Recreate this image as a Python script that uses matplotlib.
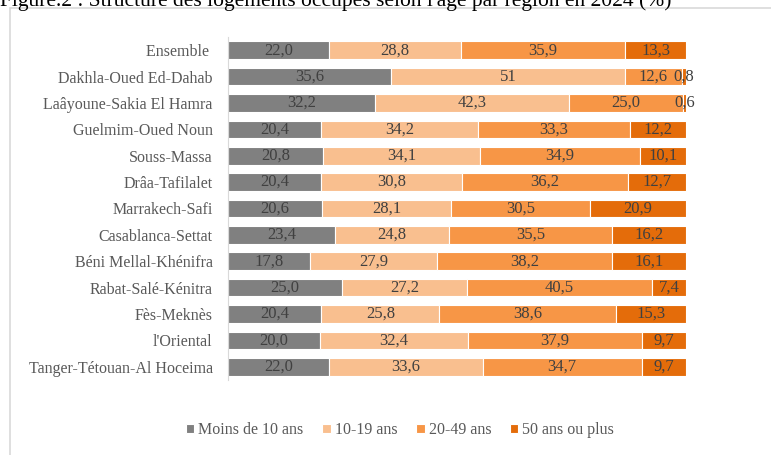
import matplotlib
matplotlib.use("Agg")
import matplotlib.pyplot as plt
from matplotlib.patches import Rectangle
import numpy as np

plt.rcParams['font.family'] = ['Liberation Serif', 'DejaVu Serif']

regions = [
    "Ensemble ",
    "Dakhla-Oued Ed-Dahab",
    "Laâyoune-Sakia El Hamra",
    "Guelmim-Oued Noun",
    "Souss-Massa",
    "Drâa-Tafilalet",
    "Marrakech-Safi",
    "Casablanca-Settat",
    "Béni Mellal-Khénifra",
    "Rabat-Salé-Kénitra",
    "Fès-Meknès",
    "l'Oriental",
    "Tanger-Tétouan-Al Hoceima",
]
moins_10 = [22.0, 35.6, 32.2, 20.4, 20.8, 20.4, 20.6, 23.4, 17.8, 25.0, 20.4, 20.0, 22.0]
ans_10_19 = [28.8, 51, 42.3, 34.2, 34.1, 30.8, 28.1, 24.8, 27.9, 27.2, 25.8, 32.4, 33.6]
ans_20_49 = [35.9, 12.6, 25.0, 33.3, 34.9, 36.2, 30.5, 35.5, 38.2, 40.5, 38.6, 37.9, 34.7]
ans_50_plus = [13.3, 0.8, 0.6, 12.2, 10.1, 12.7, 20.9, 16.2, 16.1, 7.4, 15.3, 9.7, 9.7]

series = [moins_10, ans_10_19, ans_20_49, ans_50_plus]
names = ["Moins de 10 ans", "10-19 ans", "20-49 ans", "50 ans ou plus"]
colors = ["#808080", "#F9BF8F", "#F79646", "#E46C0A"]


def fmt(v):
    if isinstance(v, int):
        return str(v)
    return f"{v:.1f}".replace(".", ",")


fig = plt.figure(figsize=(7.71, 4.55), dpi=100)
ax = fig.add_axes([228 / 771, 1 - 380 / 455, 458 / 771, 343 / 455])

# cadre autour du graphique
fig.patches.append(Rectangle((10 / 771, -0.1), 1.2, 1 - 8 / 455 + 0.1,
                             transform=fig.transFigure, fill=False,
                             edgecolor="#D9D9D9", linewidth=1.2))

fig.text(0, 1 - 6 / 455, "Figure.2 : Structure des logements occupés selon l'âge par région en 2024 (%)",
         fontsize=15.5, color="black", va="baseline", ha="left")

data = np.array([[float(x) for x in s] for s in series])
totals = data.sum(axis=0)
y = np.arange(len(regions))
left = np.zeros(len(regions))
for k, s in enumerate(series):
    w = data[k] / totals * 100
    ax.barh(y, w, left=left, height=0.67, color=colors[k], edgecolor="white",
            linewidth=0.8, label=names[k])
    for i in range(len(regions)):
        ax.text(left[i] + w[i] / 2, y[i], fmt(s[i]), ha="center", va="center",
                fontsize=12, color="#404040")
    left += w

ax.set_xlim(0, 100)
ax.set_ylim(len(regions) - 0.5, -0.5)
ax.set_yticks(y)
ax.set_yticklabels(regions, fontsize=11.5, color="#595959")
ax.tick_params(axis="y", length=0, pad=11)
ax.set_xticks([])
for sp in ["top", "right", "bottom"]:
    ax.spines[sp].set_visible(False)
ax.spines["left"].set_color("#D9D9D9")

fig.legend(loc="center", bbox_to_anchor=(400 / 771, 1 - 430 / 455), ncol=4,
           frameon=False, fontsize=11.5, handlelength=0.55, handleheight=0.55,
           handletextpad=0.25, columnspacing=1.15, labelcolor="#595959")

fig.savefig("out.png", dpi=100)
